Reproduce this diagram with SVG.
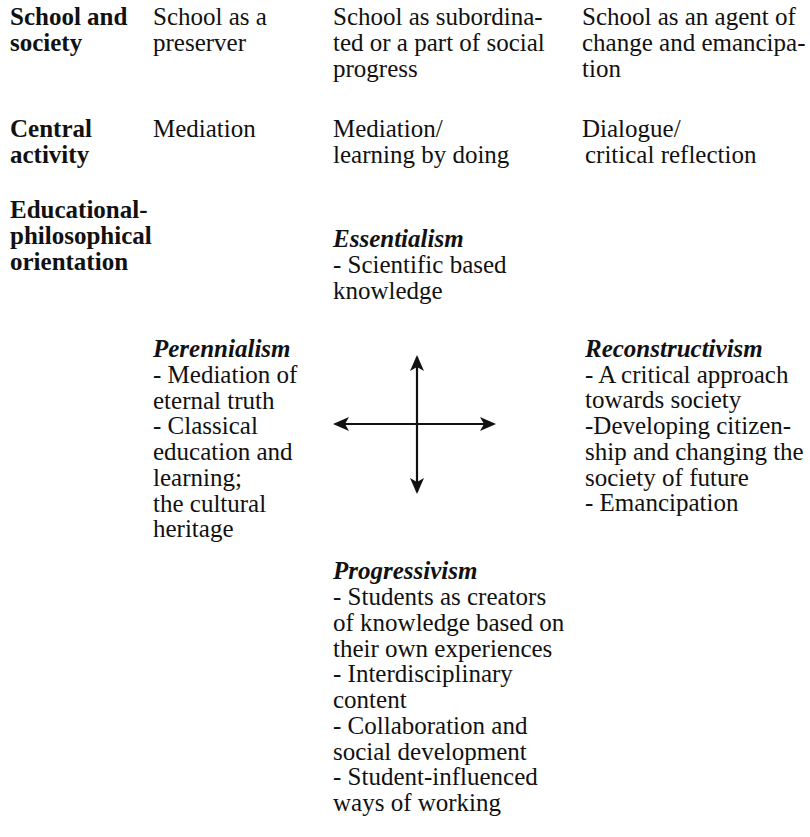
<svg xmlns="http://www.w3.org/2000/svg" width="810" height="837" viewBox="0 0 810 837">
<defs>
<style>
text{font-family:'Liberation Serif','DejaVu Serif',serif;font-size:25px;fill:#111}
.b{font-weight:bold}
.i{font-style:italic;font-weight:bold}
.ax{stroke:#111;stroke-width:2.2;fill:none}
</style>
<marker id="ah" viewBox="0 0 16 16" refX="14" refY="8" markerWidth="16" markerHeight="16" markerUnits="userSpaceOnUse" orient="auto-start-reverse">
<path d="M0,1 L16,8 L0,15 L4,8 Z" fill="#111"/>
</marker>
</defs>
<rect width="810" height="837" fill="#fff"/>
<g font-family="Liberation Serif, DejaVu Serif, serif">
<g id="row-labels">
<text class="b" x="10" y="25">School and</text>
<text class="b" x="10" y="51">society</text>
<text class="b" x="10" y="137">Central</text>
<text class="b" x="10" y="163">activity</text>
<text class="b" x="10" y="218">Educational-</text>
<text class="b" x="10" y="244">philosophical</text>
<text class="b" x="10" y="270">orientation</text>
</g>
<g id="col-preserver">
<text x="153" y="25">School as a</text>
<text x="153" y="51">preserver</text>
<text x="153" y="137">Mediation</text>
</g>
<g id="col-subordinated">
<text x="333" y="25">School as subordina-</text>
<text x="333" y="51">ted or a part of social</text>
<text x="333" y="77">progress</text>
<text x="333" y="137">Mediation/</text>
<text x="333" y="163">learning by doing</text>
</g>
<g id="col-agent">
<text x="582" y="25">School as an agent of</text>
<text x="582" y="51">change and emancipa-</text>
<text x="582" y="77">tion</text>
<text x="582" y="137">Dialogue/</text>
<text x="585" y="163">critical reflection</text>
</g>
<g id="essentialism">
<text class="i" x="333" y="247">Essentialism</text>
<text x="333" y="273">- Scientific based</text>
<text x="333" y="299">knowledge</text>
</g>
<g id="perennialism">
<text class="i" x="153" y="357">Perennialism</text>
<text x="153" y="383">- Mediation of</text>
<text x="153" y="409">eternal truth</text>
<text x="153" y="434">- Classical</text>
<text x="153" y="460">education and</text>
<text x="153" y="486">learning;</text>
<text x="153" y="512">the cultural</text>
<text x="153" y="537">heritage</text>
</g>
<g id="reconstructivism">
<text class="i" x="585" y="357">Reconstructivism</text>
<text x="585" y="383">- A critical approach</text>
<text x="585" y="408">towards society</text>
<text x="585" y="434">-Developing citizen-</text>
<text x="585" y="460">ship and changing the</text>
<text x="585" y="486">society of  future</text>
<text x="585" y="511">- Emancipation</text>
</g>
<g id="progressivism">
<text class="i" x="333" y="579">Progressivism</text>
<text x="333" y="605">- Students as creators</text>
<text x="333" y="631">of knowledge based on</text>
<text x="333" y="657">their own experiences</text>
<text x="333" y="682">- Interdisciplinary</text>
<text x="333" y="708">content</text>
<text x="333" y="734">- Collaboration and</text>
<text x="333" y="760">social development</text>
<text x="333" y="785">- Student-influenced</text>
<text x="333" y="811">ways of working</text>
</g>
</g>
<g id="connectors">
<line class="ax" x1="417" y1="424" x2="417" y2="357" marker-end="url(#ah)"/>
<line class="ax" x1="417" y1="424" x2="417" y2="492" marker-end="url(#ah)"/>
<line class="ax" x1="417" y1="424" x2="335" y2="424" marker-end="url(#ah)"/>
<line class="ax" x1="417" y1="424" x2="494" y2="424" marker-end="url(#ah)"/>
</g>
</svg>
